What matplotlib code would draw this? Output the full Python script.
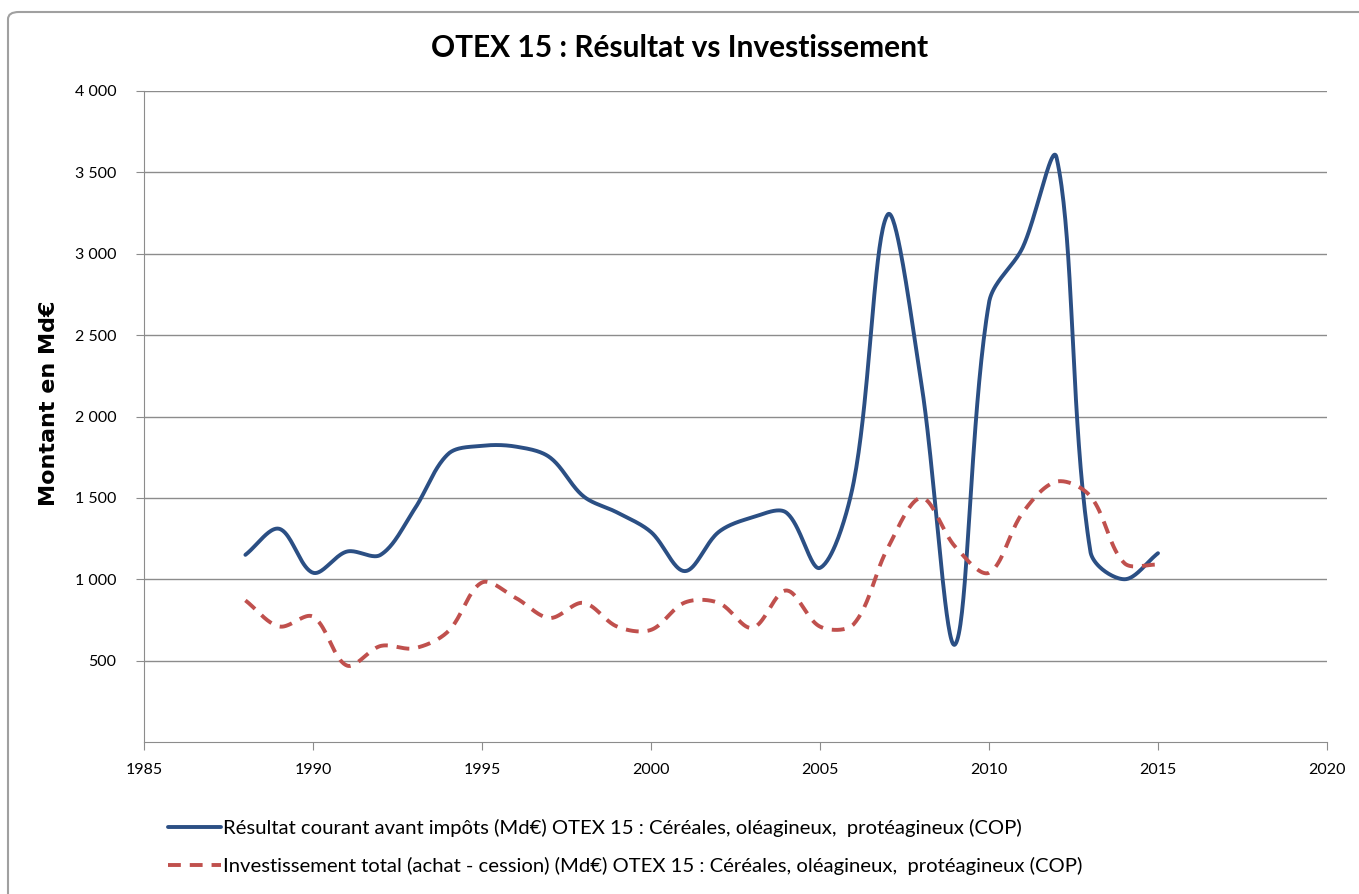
import numpy as np
import matplotlib
matplotlib.use('Agg')
import matplotlib.pyplot as plt
from matplotlib.patches import FancyBboxPatch
from matplotlib.ticker import FuncFormatter

years = list(range(1988, 2016))
resultat = [1150, 1310, 1040, 1170, 1150, 1430, 1770, 1820, 1815, 1750,
            1510, 1410, 1290, 1050, 1290, 1380, 1410, 1070, 1600, 3240,
            2200, 600, 2700, 3040, 3590, 1170, 1000, 1160]
investissement = [870, 710, 770, 470, 590, 576, 680, 980, 885, 762,
                  855, 709, 689, 857, 855, 701, 931, 709, 725, 1190,
                  1500, 1200, 1040, 1410, 1600, 1510, 1100, 1090]

label_res = u"Résultat courant avant impôts (Md€) OTEX 15 : Céréales, oléagineux,  protéagineux (COP)"
label_inv = u"Investissement total (achat - cession) (Md€) OTEX 15 : Céréales, oléagineux,  protéagineux (COP)"

# pixel scale of the plot area, used to weight the smoothing like excel does
sx, sy = 33.8, 651. / 4000.


def smooth(x, y, n=40):
    # bezier smoothing, control handles weighted by neighbouring segment lengths
    P = np.column_stack([np.asarray(x, float) * sx, np.asarray(y, float) * sy])
    m = len(P)
    cin = np.zeros_like(P); cout = np.zeros_like(P)
    for i in range(m):
        a = P[max(i-1, 0)]; b = P[min(i+1, m-1)]
        T = b - a
        d1 = np.hypot(*(P[i] - a)); d2 = np.hypot(*(b - P[i]))
        if d1 + d2 == 0:
            cin[i] = cout[i] = P[i]; continue
        cin[i] = P[i] - T * d1 / (d1 + d2) / 3.
        cout[i] = P[i] + T * d2 / (d1 + d2) / 3.
    t = np.linspace(0, 1, n)[:, None]
    segs = []
    for i in range(m - 1):
        p0, p1, p2, p3 = P[i], cout[i], cin[i+1], P[i+1]
        segs.append((1-t)**3*p0 + 3*(1-t)**2*t*p1 + 3*(1-t)*t**2*p2 + t**3*p3)
    B = np.vstack(segs)
    return B[:, 0] / sx, B[:, 1] / sy


plt.rcParams['font.family'] = ['Lato', 'DejaVu Sans']

fig = plt.figure(figsize=(13.59, 8.94), dpi=100)
fig.patch.set_facecolor('w')
ax = fig.add_axes([144/1359., 1-742/894., (1327-144)/1359., (742-91)/894.])

# chart frame
fig.patches.append(FancyBboxPatch((8/1359., -0.05), 1.1, 1-12/894.+0.05,
                                  boxstyle='round,pad=0,rounding_size=0.008',
                                  transform=fig.transFigure, fill=False,
                                  edgecolor='#a0a0a0', lw=1.5))

xb, yb = smooth(years, resultat)
xr, yr = smooth(years, investissement)
ax.plot(xb, yb, color='#2b4f84', lw=2.8, label=label_res, solid_capstyle='round')
ax.plot(xr, yr, color='#c0504d', lw=2.8, ls=(0, (3.3, 2.3)), label=label_inv)

ax.set_xlim(1985, 2020)
ax.set_ylim(0, 4000)
ax.set_xticks(range(1985, 2021, 5))
ax.set_yticks(range(500, 4001, 500))
ax.yaxis.set_major_formatter(FuncFormatter(lambda v, p: '{:,}'.format(int(v)).replace(',', ' ')))
ax.yaxis.grid(True, color='#8c8c8c', lw=1)
ax.set_axisbelow(True)
for sp in ['top', 'right']:
    ax.spines[sp].set_visible(False)
for sp in ['left', 'bottom']:
    ax.spines[sp].set_color('#8c8c8c')
ax.tick_params(colors='#8c8c8c', labelcolor='k', labelsize=11.5, length=6, direction='out')
ax.tick_params(axis='x', pad=9)
ax.tick_params(axis='y', pad=14)
ax.set_ylabel(u'Montant en Md€', fontsize=16, fontweight='bold', family='DejaVu Sans')
ax.yaxis.set_label_coords(-0.072, 0.52)

fig.text(0.5, 1-48/894., 'OTEX 15 : Résultat vs Investissement', ha='center', va='center',
         fontsize=21.5, fontweight='bold')

fig.legend(loc='upper left', bbox_to_anchor=(150/1359., 1-801/894.), frameon=False,
           fontsize=14.6, handlelength=2.6, handletextpad=0.1, labelspacing=0.95)

fig.savefig('out.png', dpi=100)
